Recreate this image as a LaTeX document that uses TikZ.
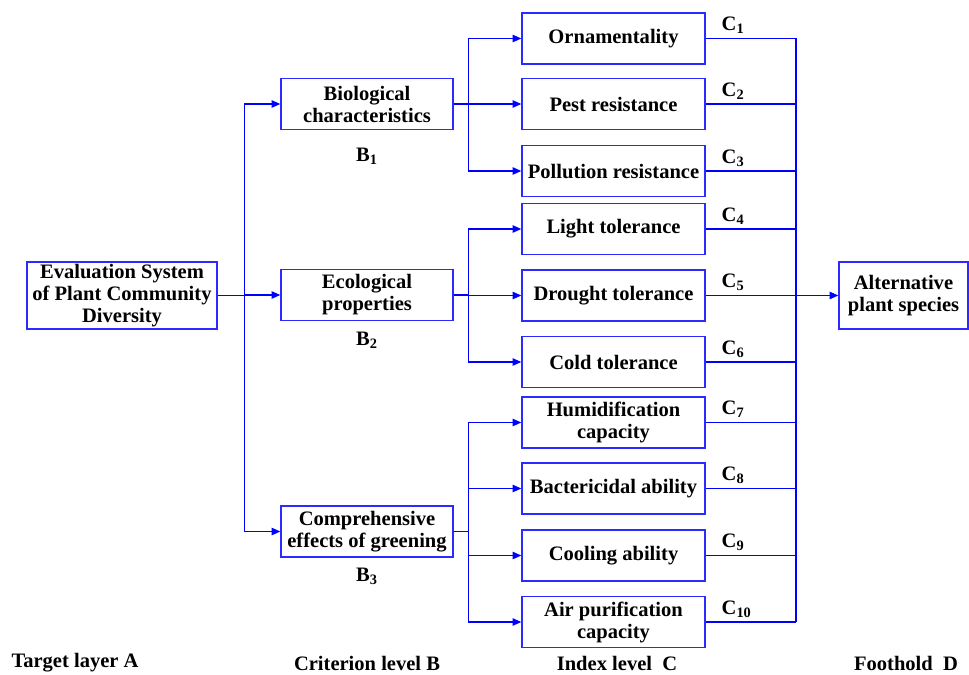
\documentclass[tikz,border=0pt]{standalone}
\usepackage{fontspec}
\setmainfont{Liberation Serif}
\usetikzlibrary{arrows.meta, positioning}
\definecolor{linkblue}{HTML}{0000FF}
\definecolor{boxblue}{HTML}{2B2BFF}
\tikzset{
  txt/.style      = {font=\fontsize{15.4}{16.5}\selectfont\bfseries},
  base/.style     = {rectangle, draw=boxblue, line width=1pt, fill=white,
                      align=center, txt, inner sep=1pt},
  sysbox/.style   = {base, minimum width=142.5pt, minimum height=50.25pt},
  critbox/.style  = {base, minimum width=129pt, minimum height=38.25pt},
  idxbox/.style   = {base, minimum width=137.25pt, minimum height=38.25pt},
  goalbox/.style  = {base, minimum width=96.75pt, minimum height=50.25pt},
  flow/.style     = {-{Triangle[length=6.5pt, width=5.5pt]}, line width=1pt, draw=linkblue},
  link/.style     = {line width=1pt, draw=linkblue},
  tag/.style      = {txt, inner sep=0pt},
  layerlabel/.style = {txt, inner sep=0pt},
}

\begin{document}
\begin{tikzpicture}[x=0.75pt, y=-0.75pt]
  \useasboundingbox (0,0) rectangle (969,674);

  % target layer
  \node[sysbox] (a) at (122,295.5) {Evaluation System\\of Plant Community\\Diversity};

  % criterion level
  \node[critbox] (b1) at (367,104) {Biological\\characteristics};
  \node[critbox] (b2) at (367,295) {Ecological\\properties};
  \node[critbox] (b3) at (367,531.5) {Comprehensive\\effects of greening};
  \node[tag] (tb1) at (367,156) {B\textsubscript{1}};
  \node[tag] (tb2) at (367,340) {B\textsubscript{2}};
  \node[tag] (tb3) at (367,576) {B\textsubscript{3}};

  % index level
  \foreach \i/\y/\t in {1/38.5/Ornamentality, 2/104/Pest resistance,
      3/171/Pollution resistance, 4/229/Light tolerance,
      5/295.5/Drought tolerance, 6/362/Cold tolerance,
      7/422.5/{Humidification\\capacity}, 8/488.5/Bactericidal ability,
      9/555.5/Cooling ability, 10/622/{Air purification\\capacity}}
    \node[idxbox] (c\i) at (613.5,\y) {\t};

  % foothold
  \node[goalbox] (d) at (903.5,295.5) {Alternative\\plant species};
  \coordinate (bus) at (796,295.5);

  % A -> B
  \foreach \b in {b1,b2,b3}
    \draw[flow] (a.east) -- ++(27,0) |- (\b.west);

  % B -> C
  \foreach \c in {c1,c2,c3}
    \draw[flow] (b1.east) -- ++(15,0) |- (\c.west);
  \foreach \c in {c4,c5,c6}
    \draw[flow] (b2.east) -- ++(15,0) |- (\c.west);
  \foreach \c in {c7,c8,c9,c10}
    \draw[flow] (b3.east) -- ++(15,0) |- (\c.west);

  % C -> D
  \foreach \i in {1,...,10}
    \draw[link] (c\i.east) -- node[tag, pos=0, anchor=south west, xshift=11.5pt, yshift=3pt] {C\textsubscript{\i}} (c\i.east -| bus);
  \draw[link] (bus |- c1.east) -- (bus |- c10.east);
  \draw[flow] (bus) -- (d.west);

  % layer names
  \node[layerlabel] (la) at (75,663) {Target layer A};
  \node[layerlabel] (lb) at (367,663) {Criterion level B};
  \node[layerlabel] (lc) at (617,663) {Index level\ \ C};
  \node[layerlabel] (ld) at (906,663) {Foothold\ \ D};
\end{tikzpicture}
\end{document}
